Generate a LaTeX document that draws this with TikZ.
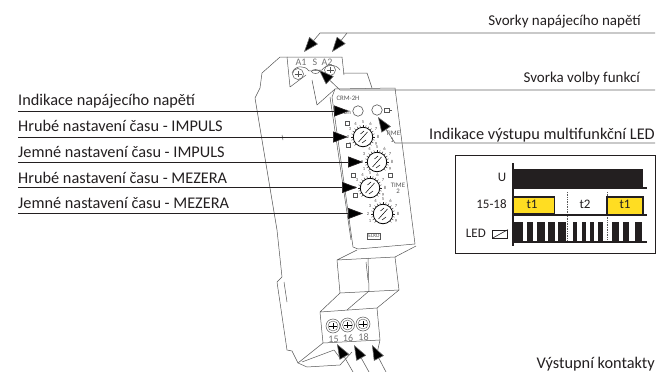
\documentclass[tikz,border=0pt]{standalone}
\usepackage{fontspec}
\setmainfont{Carlito}
\usetikzlibrary{arrows.meta,calc}
\definecolor{ink}{HTML}{231F20}
\definecolor{dev}{HTML}{555555}
\definecolor{led}{HTML}{FFDD22}
\tikzset{
  x=1pt,y=-1pt,
  lbl/.style={inner sep=0pt,text=ink,font=\fontsize{16.3}{16}\selectfont},
  lbltop/.style={inner sep=0pt,text=ink,font=\fontsize{15}{15}\selectfont},
  chartlbl/.style={inner sep=0pt,text=ink,font=\fontsize{13}{13}\selectfont},
  tinytxt/.style={inner sep=0pt,text=ink!80,font=\fontsize{4.6}{5}\selectfont},
  smalltxt/.style={inner sep=0pt,text=dev,font=\fontsize{6.8}{7}\selectfont},
  termtxt/.style={inner sep=0pt,text=black!55,font=\fontsize{10}{10}\selectfont},
  ptr/.style={draw=ink,line width=.7pt,-{Triangle[length=15pt,width=11pt,fill=black]}},
  ptrg/.style={draw=black!60,line width=.6pt,-{Triangle[length=15pt,width=11pt,fill=black]}},
  body/.style={draw=dev,line width=.5pt,line join=round},
  dial/.style={draw=black,line width=.8pt,fill=white},
  base/.style={draw=ink,line width=1.3pt},
}
\newcommand{\dialat}[3]{%
  \foreach \a in {-135,-120,...,135}{\draw[ink,line width=.35pt] (#1,#2) ++({\a-90}:10) -- ++({\a-90}:2);}
  \foreach \a/\t in {-120/1,-90/2,-60/3,-30/4,0/5,30/6,60/7,90/8,120/9}{\node[tinytxt] at ($(#1,#2)+({\a-90}:15)$) {\t};}
  \node[dial,circle,minimum size=19.5pt,inner sep=0pt] (#3) at (#1,#2) {};
  \draw[black,line width=.5pt] (#1-4.5,#2+5) -- (#1+4.5,#2-5);
  \draw[black,line width=.5pt] (#1-2.5,#2-3) -- (#1+1,#2-6);
  \draw[black,line width=.5pt] (#1-1,#2+6) -- (#1+3,#2+3);
}
\begin{document}
\begin{tikzpicture}
\useasboundingbox (0,0) rectangle (659,372);
% device body
\draw[body] (287,57) -- (280,57) -- (262,73) -- (260,88) -- (255,98) -- (277,230) -- (282,277) -- (277,282) -- (287,350) -- (292,351) -- (298,363) -- (307,367) -- (340,365) -- (352,352);
\draw[body] (287,57) -- (342,57) -- (344,75);
\draw[body] (287,57) -- (290,87) -- (306,75);
\draw[body] (343,73) -- (367,73) -- (372,88);
\draw[body] (292,73) .. controls (295,65) and (305,65) .. (309,71) -- (322,70) .. controls (325,65) and (336,63) .. (340,70);
\draw[body] (312,80) -- (317,105) -- (335,89) -- (395,88);
\draw[body] (335,89) -- (332,97) -- (353,247) -- (358,249) -- (415,244) -- (395,88);
\draw[body] (330,97) -- (351,240);
\draw[body] (357,250) -- (337,260) -- (395,257) -- (416,246);
\draw[body] (337,260) -- (340,293) -- (399,290) -- (395,257);
\draw[body] (340,293) -- (320,312) -- (377,308) -- (399,290);
\draw[body] (368,258) -- (369,291) -- (347,310);
\draw[body] (320,312) -- (323,343) -- (380,340) -- (377,308);
\draw[body] (323,343) -- (298,363);
\draw[body] (380,340) -- (376,358);
\draw[body] (302,362) -- (334,350) -- (340,358);
\draw[body] (284,282) -- (287,302);
\draw[body] (366,262) -- (368,280);
\draw[body] (282,135) -- (283,140);
% top terminals
\foreach \x/\y in {298/74,330/70}{
  \draw[dev,line width=.5pt] (\x,\y) circle (5.5);
  \draw[dev,line width=.4pt] (\x-3.5,\y) -- (\x+3.5,\y) (\x,\y-3) -- (\x,\y+3);
}
\draw[dev,line width=.5pt] (315.5,71.5) ellipse (4 and 2);
% bottom terminals
\foreach \x/\y/\t in {333/326/15,347.5/325/16,363/324/18}{
  \draw[dev,line width=.5pt,fill=white] (\x,\y) circle (7);
  \draw[dev,line width=.4pt] (\x,\y) circle (5);
  \draw[black,line width=.5pt] (\x-4,\y) -- (\x+4,\y);
  \draw[black,line width=.5pt] (\x,\y-3) -- (\x,\y+3);
  \node[termtxt] at (\x+.5,\y+13) {\t};
}
\node[termtxt] at (301,62) {A1};
\node[termtxt] at (315,62) {S};
\node[termtxt] at (327,62) {A2};
\node[smalltxt] at (348,98) {CRM-2H};
\node[dial,circle,minimum size=10.5pt,inner sep=0pt,draw=dev,line width=.6pt] (ledA) at (358,111) {};
\node[dial,circle,minimum size=10.5pt,inner sep=0pt,draw=dev,line width=.6pt] (ledB) at (377,110) {};
\node[smalltxt] at (347,112) {Un};
\draw[dev,line width=.5pt] (384,108) rectangle (389,112) (389,110) -- (392,110);
\dialat{363}{137}{d1}
\dialat{377}{162}{d2}
\dialat{370}{188}{d3}
\dialat{383}{214}{d4}
\foreach \x/\y in {347/123,348/145,353/175,355.5/195,390/175}{
  \draw[dev,line width=.45pt,fill=white] (\x-2,\y-1.8) rectangle (\x+2,\y+1.8);
}
\node[smalltxt] at (393,133) {TIME};
\node[smalltxt] at (392,140) {1};
\node[smalltxt] at (398,185) {TIME};
\node[smalltxt] at (398,191) {2};
\node[smalltxt,font=\fontsize{5.5}{5}\selectfont,draw=dev,line width=.4pt,inner sep=1pt] (logo) at (374,236) {ELKO};
% labels
\node[lbltop,anchor=east] (svorky) at (641,22) {Svorky napájecího napětí};
\node[lbltop,anchor=east] (volba) at (640,79) {Svorka volby funkcí};
\node[lbl,anchor=east] (indik) at (655,135) {Indikace výstupu multifunkční LED};
\node[lbl,anchor=east] (vystup) at (655,364) {Výstupní kontakty};
\node[lbl,anchor=west] (l1) at (18,101) {Indikace napájecího napětí};
\node[lbl,anchor=west] (l2) at (18,125.5) {Hrubé nastavení času - IMPULS};
\node[lbl,anchor=west] (l3) at (18,152) {Jemné nastavení času - IMPULS};
\node[lbl,anchor=west] (l4) at (18,177.5) {Hrubé nastavení času - MEZERA};
\node[lbl,anchor=west] (l5) at (18,203) {Jemné nastavení času - MEZERA};
% left pointers
\coordinate (s1) at (18,111); \coordinate (t1) at (349,111);
\coordinate (s2) at (18,137); \coordinate (t2) at (348,137);
\coordinate (s3) at (18,162); \coordinate (t3) at (363,162);
\coordinate (s4) at (18,187.5); \coordinate (t4) at (357,187.5);
\coordinate (s5) at (18,213.5); \coordinate (t5) at (363,213.5);
\foreach \i in {1,...,5}{\draw[ptr] (s\i) -- (t\i);}
% right pointers
\coordinate (a0) at (655,33); \coordinate (a1) at (320,33); \coordinate (a2) at (347,33);
\coordinate (at1) at (304,52); \coordinate (at2) at (332,52);
\draw[ptrg] (a0) -- (a1) -- (at1);
\draw[ptrg] (a2) -- (at2);
\coordinate (b0) at (655,90); \coordinate (b1) at (340,90); \coordinate (bt) at (319,70);
\draw[ptrg] (b0) -- (b1) -- (bt);
\coordinate (c0) at (655,143); \coordinate (c1) at (395,143); \coordinate (ct) at (378,117);
\draw[ptrg] (c0) -- (c1) -- (ct);
\coordinate (e1) at (353,372); \coordinate (e2) at (369,372); \coordinate (e3) at (386,372);
\coordinate (et1) at (337,344); \coordinate (et2) at (354,345); \coordinate (et3) at (372,345);
\draw[ptrg] (e1) -- (et1);
\draw[ptrg] (e2) -- (et2);
\draw[ptrg] (e3) -- (et3);
% chart
\node[draw=ink,line width=1pt,fill=white,minimum width=200pt,minimum height=98pt,inner sep=0pt] (chart) at (555,204) {};
\fill[ink] (514,169) rectangle (643,188);
\draw[draw=ink,line width=1.2pt,fill=led] (514,197) -- (554.5,197) -- (554.5,214) -- (514,214);
\draw[draw=ink,line width=1.2pt,fill=led] (607,214) -- (607,197) -- (643,197) -- (643,214);
\node[chartlbl] (cU) at (502,177) {U};
\node[chartlbl] (c15) at (491.5,204) {15-18};
\node[chartlbl,anchor=east] (cLED) at (486,233) {LED};
\node[draw=ink,line width=.7pt,minimum width=15pt,minimum height=8pt,inner sep=0pt] (icon) at (500,234) {};
\draw[ink,line width=.6pt] (icon.south west) -- (icon.north east);
\node[chartlbl] (t1a) at (532,204) {t1};
\node[chartlbl] (t2a) at (585,204) {t2};
\node[chartlbl] (t1b) at (625,204) {t1};
\foreach \a/\b in {514/523,527/533,537/545,548/555,558/566,573/577,582/586,590/594,598/603,612/619,623/629,635/642}{
  \fill[ink] (\a,222) rectangle (\b,242);
}
\draw[black!65,line width=.7pt,densely dotted] (567,192) -- (567,242);
\draw[black!65,line width=.7pt,densely dotted] (607,192) -- (607,197);
\draw[black!65,line width=.7pt,densely dotted] (607,215) -- (607,242);
\draw[base] (513,163) -- (513,246);
\draw[base] (513,188) -- (647,188);
\draw[base] (513,215) -- (647,215);
\draw[base] (513,242) -- (647,242);
\end{tikzpicture}
\end{document}
